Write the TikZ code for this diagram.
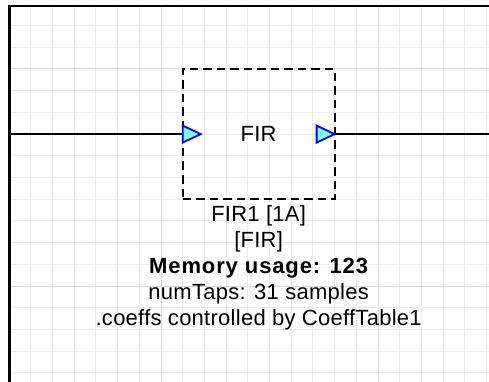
\documentclass[tikz,border=0pt]{standalone}
\usepackage{fontspec}
\setmainfont{Liberation Sans}[LetterSpace=1.2]
\newfontfamily\memfont{Liberation Sans}[LetterSpace=4]
\definecolor{gridminor}{RGB}{235,235,235}
\definecolor{gridmajor}{RGB}{218,218,218}
\definecolor{portfill}{RGB}{128,255,224}
\definecolor{portline}{RGB}{0,0,255}
\tikzset{
  minorline/.style={draw=gridminor, line width=1pt},
  majorline/.style={draw=gridmajor, line width=1pt},
  border/.style={draw=black, line width=2pt},
  wire/.style={draw=black, line width=1.5pt},
  blockbox/.style={draw=black, line width=2.2pt, dash pattern=on 8.5pt off 5pt,
    minimum width=151.9pt, minimum height=130.2pt, inner sep=0pt, outer sep=0pt},
  portshape/.style={fill=portfill, draw=portline, line width=1.8pt, line join=miter},
  txt/.style={anchor=base, inner sep=0pt, font=\fontsize{22}{26}\selectfont},
}
\begin{document}
\begin{tikzpicture}[x=1pt,y=-1pt]
  \fill[white] (0,0) rectangle (489,382);
  \useasboundingbox (0,0) rectangle (489,382);
  % grid
  \foreach \k in {1,...,22} {
    \pgfmathsetmacro\xx{9.1+21.7*\k}
    \draw[minorline] (\xx,5.8) -- (\xx,382);
  }
  \foreach \j in {1,...,17} {
    \pgfmathsetmacro\yy{3.9+21.7*\j}
    \draw[minorline] (9.5,\yy) -- (489,\yy);
  }
  \foreach \k in {7,17} {
    \pgfmathsetmacro\xx{9.1+21.7*\k}
    \draw[majorline] (\xx,5.8) -- (\xx,382);
  }
  \foreach \j in {3,13} {
    \pgfmathsetmacro\yy{3.9+21.7*\j}
    \draw[majorline] (9.5,\yy) -- (489,\yy);
  }
  % canvas border
  \draw[border, line width=2.3pt] (9.5,382) -- (9.5,5.8);
  \draw[border, line width=1.7pt] (8.4,5.8) -- (489,5.8);
  % block
  \node[blockbox] (fir) at (258.65,134.1) {};
  \coordinate (lin) at (9.5,134.1);
  \coordinate (rout) at (489,134.1);
  \draw[wire] (lin) -- (fir.west);
  \draw[wire] (fir.east) -- (rout);
  % ports
  \filldraw[portshape] (fir.west) ++(0,-8.5) -- ++(18,8.5) -- ++(-18,8.5) -- cycle;
  \filldraw[portshape] (fir.east) -- ++(-18,-8.5) -- ++(0,17) -- cycle;
  \node[txt] (firtitle) at (258.65,142) {FIR};
  % labels
  \node[txt] (l1) at (258.65,221) {FIR1 [1A]};
  \node[txt] (l2) at (258.65,247) {[FIR]};
  \node[txt] (l3) at (258.65,273) {\memfont\bfseries Memory usage: 123};
  \node[txt] (l4) at (258.65,299) {numTaps: 31 samples};
  \node[txt] (l5) at (258.65,325) {.coeffs controlled by CoeffTable1};
\end{tikzpicture}
\end{document}
